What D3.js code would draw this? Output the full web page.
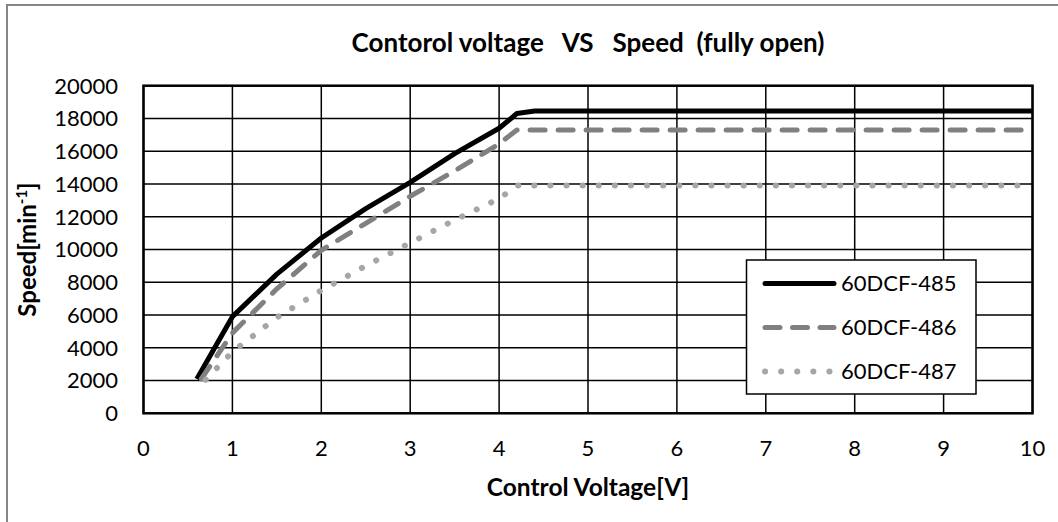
<html>
<head>
<meta charset="utf-8">
<style>
  body { margin: 0; background: #fff; }
  text { font-family: Lato, "Open Sans", sans-serif; fill: #000; }
  .grid line { stroke: #000; stroke-width: 1.5px; }
</style>
</head>
<body>
<script src="https://d3js.org/d3.v7.min.js"></script>
<script>
// data
var seriesNames = ["60DCF-485", "60DCF-486", "60DCF-487"];
var voltage485 = [0.6, 1.0, 1.5, 2.0, 2.5, 3.0, 3.5, 4.0, 4.2, 4.4, 5, 6, 7, 8, 9, 10];
var speed485   = [2100, 5900, 8500, 10700, 12500, 14100, 15850, 17400, 18300, 18450, 18450, 18450, 18450, 18450, 18450, 18450];
var voltage486 = [0.65, 1.0, 1.5, 2.0, 2.5, 3.0, 3.5, 4.0, 4.2, 5, 6, 7, 8, 9, 10];
var speed486   = [2100, 4900, 7600, 9950, 11600, 13250, 14800, 16450, 17300, 17300, 17300, 17300, 17300, 17300, 17300];
var voltage487 = [0.7, 1.0, 1.5, 2.0, 2.5, 3.0, 3.5, 4.0, 4.2, 5, 6, 7, 8, 9, 10];
var speed487   = [2050, 3750, 5850, 7500, 9000, 10400, 11800, 13100, 13900, 13900, 13900, 13900, 13900, 13900, 13900];
var xTicks = [0, 1, 2, 3, 4, 5, 6, 7, 8, 9, 10];
var yTicks = [0, 2000, 4000, 6000, 8000, 10000, 12000, 14000, 16000, 18000, 20000];

var width = 1058, height = 522;
var plotL = 143.5, plotR = 1032.5, plotT = 85.7, plotB = 413.3;

var svg = d3.select("body").append("svg")
    .attr("width", width)
    .attr("height", height);

// outer chart border (runs off the right and bottom edge)
svg.append("rect")
    .attr("x", 7).attr("y", 5)
    .attr("width", 1100).attr("height", 600)
    .attr("fill", "#fff")
    .attr("stroke", "#868686")
    .attr("stroke-width", 2);

var x = d3.scaleLinear().domain([0, 10]).range([plotL, plotR]);
var y = d3.scaleLinear().domain([0, 20000]).range([plotB, plotT]);

// gridlines
var grid = svg.append("g").attr("class", "grid");
grid.selectAll(".v").data(xTicks).join("line").attr("class", "v")
    .attr("x1", d => x(d)).attr("x2", d => x(d))
    .attr("y1", plotT).attr("y2", plotB);
grid.selectAll(".h").data(yTicks).join("line").attr("class", "h")
    .attr("x1", plotL).attr("x2", plotR)
    .attr("y1", d => y(d)).attr("y2", d => y(d));

svg.append("rect")
    .attr("x", plotL).attr("y", plotT)
    .attr("width", plotR - plotL).attr("height", plotB - plotT)
    .attr("fill", "none").attr("stroke", "#000").attr("stroke-width", 2.5);

// tick labels
svg.append("g").selectAll("text").data(yTicks).join("text")
    .attr("x", 118).attr("y", d => y(d))
    .attr("dy", "0.36em")
    .attr("text-anchor", "end")
    .attr("font-size", 22)
    .text(d => d);

svg.append("g").selectAll("text").data(xTicks).join("text")
    .attr("x", d => x(d)).attr("y", 448)
    .attr("dy", "0.36em")
    .attr("text-anchor", "middle")
    .attr("font-size", 22)
    .text(d => d);

// titles
svg.append("text")
    .attr("x", 588).attr("y", 52)
    .attr("text-anchor", "middle")
    .attr("font-size", 26).attr("font-weight", "bold")
    .style("white-space", "pre")
    .text("Contorol voltage   VS   Speed  (fully open)");

svg.append("text")
    .attr("x", 588).attr("y", 496)
    .attr("text-anchor", "middle")
    .attr("font-size", 24.5).attr("font-weight", "bold")
    .text("Control Voltage[V]");

var yt = svg.append("text")
    .attr("transform", "translate(36," + ((plotT + plotB) / 2) + ") rotate(-90)")
    .attr("text-anchor", "middle")
    .attr("font-size", 24).attr("font-weight", "bold");
yt.append("tspan").text("Speed[min");
yt.append("tspan").attr("dy", -9).attr("font-size", 15).text("-1");
yt.append("tspan").attr("dy", 9).text("]");

// series
var styles = [
  {color: "#000", width: 5, dash: null, cap: "butt"},
  {color: "#808080", width: 5, dash: "15,13", cap: "round"},
  {color: "#a6a6a6", width: 6, dash: "0.1,16", cap: "round"}
];
var series = [
  d3.zip(voltage485, speed485),
  d3.zip(voltage486, speed486),
  d3.zip(voltage487, speed487)
];
var line = d3.line().x(d => x(d[0])).y(d => y(d[1]));

svg.append("g").selectAll("path").data(series).join("path")
    .attr("d", line)
    .attr("fill", "none")
    .attr("stroke", (d, i) => styles[i].color)
    .attr("stroke-width", (d, i) => styles[i].width)
    .attr("stroke-dasharray", (d, i) => styles[i].dash)
    .attr("stroke-linecap", (d, i) => styles[i].cap)
    .attr("stroke-linejoin", "round");

// legend
var legend = svg.append("g");
legend.append("rect")
    .attr("x", 746.5).attr("y", 260)
    .attr("width", 229.5).attr("height", 134)
    .attr("fill", "#fff").attr("stroke", "#000").attr("stroke-width", 1.5);
var rows = legend.selectAll("g").data(seriesNames).join("g")
    .attr("transform", (d, i) => "translate(0," + (283.5 + i * 44) + ")");
rows.append("line")
    .attr("x1", 765).attr("x2", 834)
    .attr("stroke", (d, i) => styles[i].color)
    .attr("stroke-width", (d, i) => styles[i].width)
    .attr("stroke-dasharray", (d, i) => i == 1 ? "15,12.5" : styles[i].dash)
    .attr("stroke-linecap", "round");
rows.append("text")
    .attr("x", 841).attr("dy", "0.36em")
    .attr("font-size", 22)
    .text(d => d);
</script>
</body>
</html>
